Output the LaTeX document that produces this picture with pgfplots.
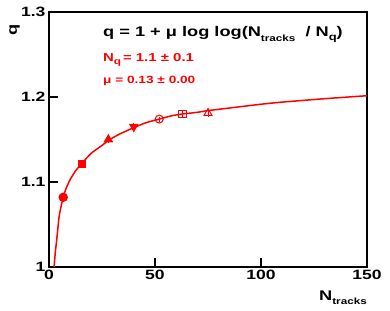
\documentclass[border=0pt]{standalone}
\usepackage{fontspec}
\setmainfont{Liberation Sans}
\newfontfamily\rootfont[FakeStretch=1.3]{Liberation Sans}
\usepackage{pgfplots}
\pgfplotsset{compat=1.18}
\begin{document}
\begin{tikzpicture}
\useasboundingbox (0,0) rectangle (390pt,310pt);
\begin{axis}[
  at={(49pt,43pt)}, anchor=south west,
  scale only axis, width=318pt, height=255pt,
  xmin=0, xmax=150, ymin=1, ymax=1.3,
  xtick={0,50,100,150}, ytick={1,1.1,1.2,1.3},
  xticklabels={0,50,100,150}, yticklabels={1,1.1,1.2,1.3},
  tick align=inside, major tick length=9pt,
  xtick pos=left, ytick pos=left, minor tick num=0,
  axis line style={line width=1.6pt},
  every tick/.style={line width=1.2pt, black},
  /pgf/number format/assume math mode=true,
  ticklabel style={font=\rootfont\bfseries\fontsize{13.5}{13.5}\selectfont},
  clip=true,
]
\addplot[red, line width=1.5pt, smooth, tension=0.3] coordinates {
(2.4,1.000) (3.0,1.018) (3.6,1.031) (4.7,1.058) (5.5,1.069) (6.7,1.082)
(8,1.092) (10,1.103) (12.5,1.113) (15.5,1.122) (20,1.134) (25,1.143)
(28,1.149) (33,1.156) (40,1.164) (46,1.170) (52,1.174) (58,1.178)
(63,1.180) (70,1.182) (75,1.184) (85,1.187) (100,1.1915) (110,1.194)
(130,1.198) (150,1.2015)
};
\pgfplotsset{pts/.style={red, only marks, line width=1pt,
  error bars/y dir=both, error bars/y explicit,
  error bars/error bar style={red, line width=1pt}, error bars/error mark=none}}
\addplot[pts, mark=*, mark size=4.2pt, mark options={fill=red, draw=red}] coordinates {(6.7,1.082) +- (0,0.003)};
\addplot[pts, mark=square*, mark size=3.6pt, mark options={fill=red, draw=red}] coordinates {(15.5,1.121) +- (0,0.003)};
\addplot[pts, mark=triangle*, mark size=4.6pt, mark options={fill=red, draw=red}] coordinates {(28,1.150) +- (0,0.004)};
\addplot[pts, mark=triangle*, mark size=4.6pt, mark options={fill=red, draw=red, rotate=180}] coordinates {(40,1.165) +- (0,0.004)};
\addplot[pts, mark=o, mark size=4pt, mark options={draw=red, line width=1pt}] coordinates {(52,1.174) +- (0,0.003)};
\addplot[pts, mark=square, mark size=3.6pt, mark options={draw=red, line width=1pt}] coordinates {(63,1.180) +- (0,0.004)};
\addplot[pts, mark=triangle, mark size=4.6pt, mark options={draw=red, line width=1pt}] coordinates {(75,1.181) +- (0,0.004)};
\end{axis}
\node[anchor=base west, inner sep=0pt, font=\rootfont\bfseries\fontsize{14}{14}\selectfont] at (103pt,273.3pt)
  {q = 1 + μ log log(N\raisebox{-5pt}{\fontsize{9}{9}\selectfont tracks}\ \ / N\raisebox{-4pt}{\fontsize{10}{10}\selectfont q})};
\node[anchor=base west, inner sep=0pt, red, font=\rootfont\bfseries\fontsize{11.5}{11.5}\selectfont] at (103pt,248.3pt)
  {N\raisebox{-3pt}{\fontsize{9}{9}\selectfont q}\,= 1.1 ± 0.1};
\node[anchor=base west, inner sep=0pt, red, font=\rootfont\bfseries\fontsize{10.5}{10.5}\selectfont] at (103pt,226.7pt)
  {μ = 0.13 ± 0.00};
\node[anchor=base east, inner sep=0pt, font=\rootfont\bfseries\fontsize{14}{14}\selectfont] at (367pt,10pt)
  {N\raisebox{-4pt}{\fontsize{9}{9}\selectfont tracks}};
\node[rotate=90, inner sep=0pt, font=\rootfont\bfseries\fontsize{14}{14}\selectfont] at (14.5pt,280pt) {q};
\end{tikzpicture}
\end{document}
